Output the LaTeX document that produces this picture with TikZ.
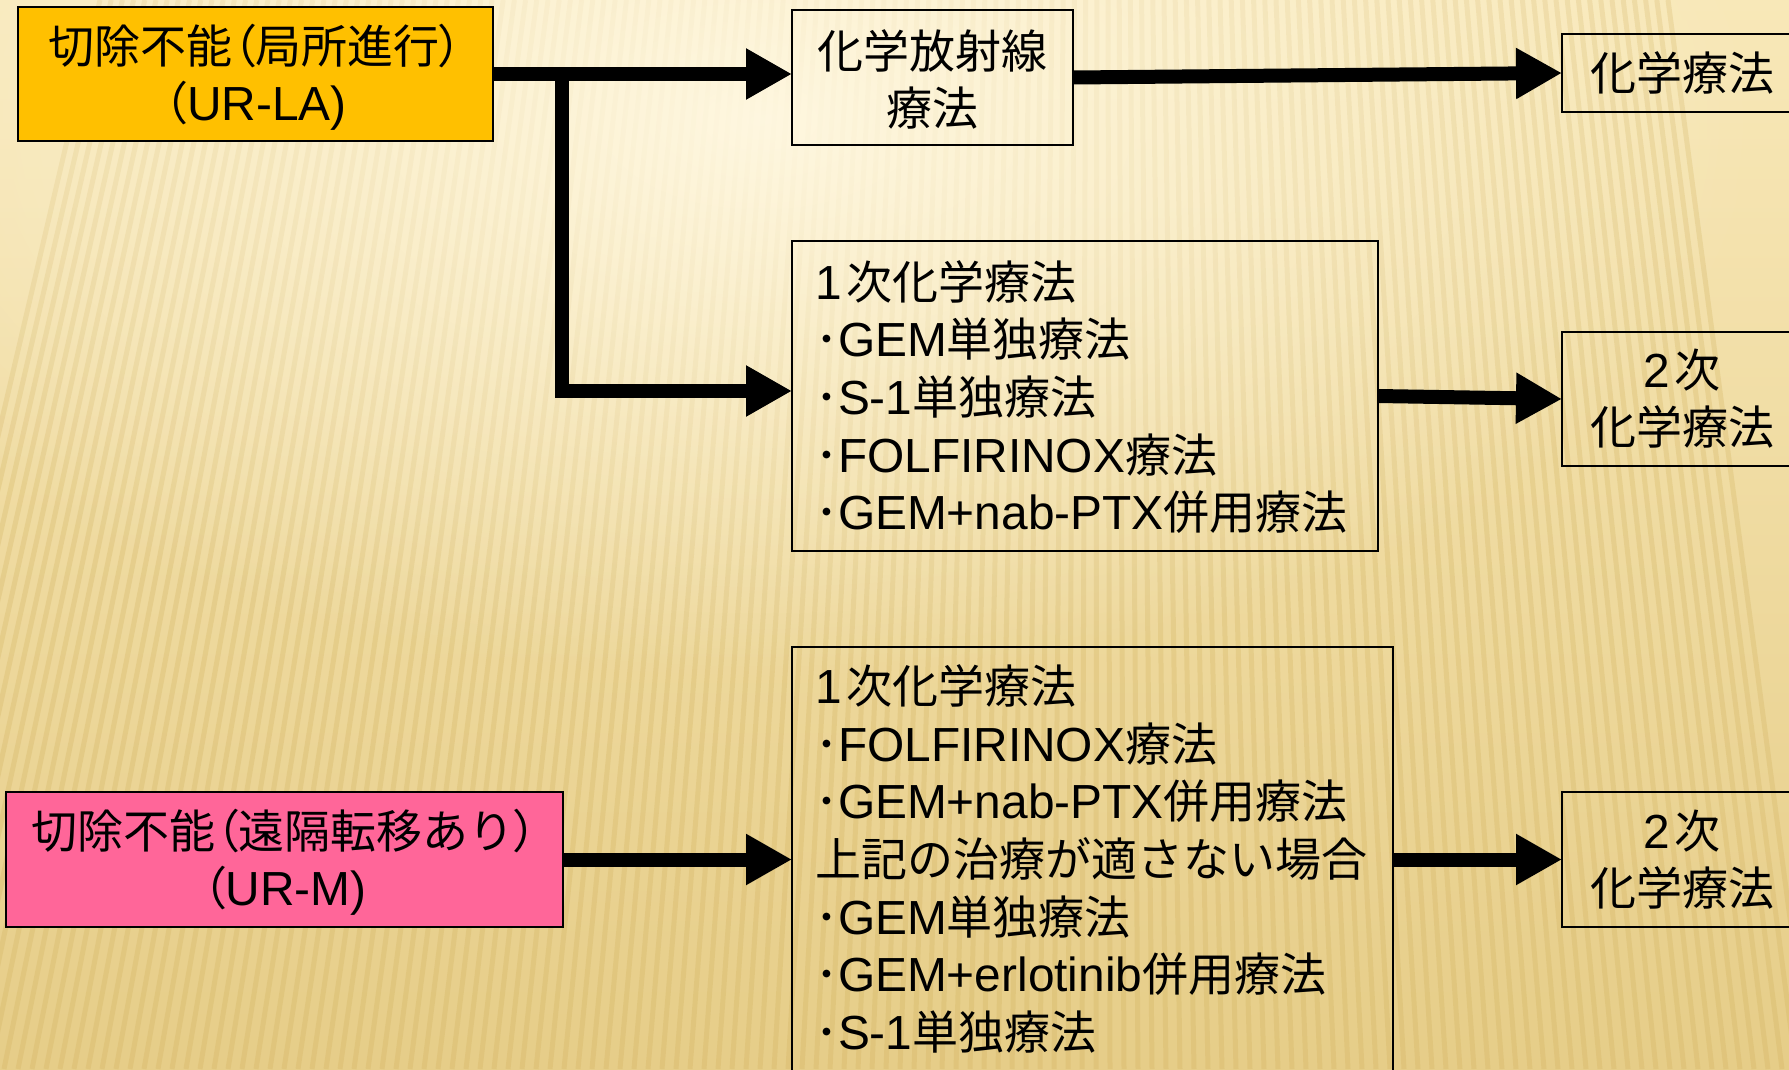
\documentclass[tikz,border=0pt]{standalone}
\usepackage{fontspec}
\setmainfont{Liberation Sans}[Scale=1.04]
\newfontfamily\jp{Noto Sans CJK JP}
\newfontfamily\jpq{Noto Sans CJK JP}[RawFeature=+palt]
\usetikzlibrary{arrows.meta,calc,fadings}
\newcommand\lt[1]{{\rmfamily #1}}
\newcommand\jqq[1]{{\jpq #1}}
\newcommand\dg[1]{{\rmfamily #1}\kern5pt}
\definecolor{bgtop}{HTML}{F8E8B8}
\definecolor{bgbot}{HTML}{E6CD88}
\definecolor{hilite}{HTML}{FFF8E2}
\definecolor{stripec}{HTML}{CFAE58}
\definecolor{gold}{HTML}{FFC000}
\definecolor{pinkbox}{HTML}{FF6699}
\tikzfading[name=softfade, inner color=transparent!0, outer color=transparent!100]
\tikzset{
  bx/.style={draw=black, line width=1.5pt, inner sep=0pt, outer sep=0pt, anchor=north west,
    align=center, font={\fontsize{46pt}{57pt}\selectfont\jp}},
  txt/.style={inner sep=0pt, outer sep=0pt, anchor=west, align=left,
    font={\fontsize{46pt}{57.7pt}\selectfont\jp}},
  arr/.style={line width=14pt, -{Triangle[length=46pt,width=48pt]}},
  stripe/.style={line width=5pt, draw=stripec, draw opacity=0.26}
}
\begin{document}
\begin{tikzpicture}[x=1pt,y=-1pt]
\useasboundingbox (0,0) rectangle (1789,1069);
\clip (0,0) rectangle (1789,1069);
% background
\shade[top color=bgtop, bottom color=bgbot] (0,0) rectangle (1789,1069);
\foreach \i in {0,...,140}{
  \pgfmathsetmacro\xb{\i*14-150}
  \pgfmathsetmacro\xt{\xb+(1100-\xb)*0.2}
  \draw[stripe] (\xb,1069) -- (\xt,0);
}
\fill[hilite, path fading=softfade, fill opacity=0.95] (760,120) ellipse [x radius=1000, y radius=560];

% boxes
\node[bx, fill=gold, minimum width=475pt, minimum height=134pt] (urla) at (18,7) {};
\node (urlatxt) [bx, draw=none, anchor=center] at ($(urla.center)+(0,3)$)
  {切除不能\jqq{（}局所進行\jqq{）}\\\jqq{（}\lt{UR-LA)}};
\node[bx, minimum width=281pt, minimum height=135pt] (chemo) at (792,10) {};
\node (chemotxt) [bx, draw=none, anchor=center] at ($(chemo.center)+(0,2)$)
  {化学放射線\\療法};
\node[bx, minimum width=240pt, minimum height=78pt] (rt1) at (1562,34)
  {化学療法};
\node[bx, minimum width=586pt, minimum height=310pt] (mid) at (792,241) {};
\node[txt] (midtxt) at ($(mid.west)+(23,1)$)
  {\dg{1}次化学療法\\
   ･\lt{GEM}単独療法\\
   ･\lt{S-1}単独療法\\
   ･\lt{FOLFIRINOX}療法\\
   ･\lt{GEM+nab-PTX}併用療法};
\node[bx, minimum width=240pt, minimum height=134pt] (rt2) at (1562,332)
  {\dg{2}次\\化学療法};
\node[bx, fill=pinkbox, minimum width=557pt, minimum height=135pt] (urm) at (6,792) {};
\node (urmtxt) [bx, draw=none, anchor=center] at ($(urm.center)+(0,3)$)
  {切除不能\jqq{（}遠隔転移あり\jqq{）}\\\jqq{（}\lt{UR-M)}};
\node[bx, minimum width=601pt, minimum height=450pt] (bb) at (792,647) {};
\node[txt] (bbtxt) at ($(bb.north west)+(23,212)$)
  {\dg{1}次化学療法\\
   ･\lt{FOLFIRINOX}療法\\
   ･\lt{GEM+nab-PTX}併用療法\\
   上記の治療が適さない場合\\
   ･\lt{GEM}単独療法\\
   ･\lt{GEM+erlotinib}併用療法\\
   ･\lt{S-1}単独療法};
\node[bx, minimum width=240pt, minimum height=135pt] (rt3) at (1562,792)
  {\dg{2}次\\化学療法};

% connectors
\coordinate (brk) at ($(urla.east)+(69,0)$);
\draw[arr] (urla.east) -- (urla.east -| chemo.west);
\draw[arr] (brk) |- ($(mid.west)+(0,-5)$);
\draw[arr] (chemo.east) -- (rt1.west);
\draw[arr] (mid.east) -- (rt2.west);
\draw[arr] (urm.east) -- (urm.east -| bb.west);
\draw[arr] (urm.east -| bb.east) -- (rt3.west);
\end{tikzpicture}
\end{document}
